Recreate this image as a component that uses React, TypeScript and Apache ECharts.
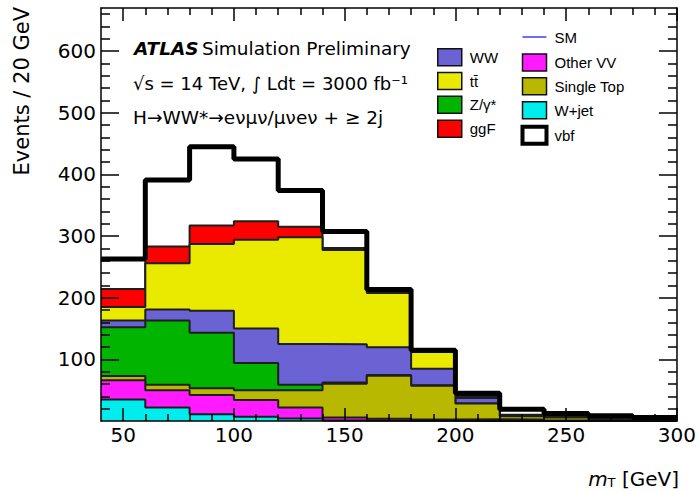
import React, { useEffect, useRef } from "react";
import * as echarts from "echarts";

// ---- data (events per 20 GeV bin, 40..300 GeV) ----
const binEdges = [40, 60, 80, 100, 120, 140, 160, 180, 200, 220, 240, 260, 280, 300];
const wjet = [35, 22, 11, 7, 4, 1, 0.5, 0.3, 0.2, 0.1, 0, 0, 0];
const otherVV = [31, 28, 31, 27, 18, 4.5, 3, 2, 2.5, 2.5, 1, 0.5, 0.3];
const singleTop = [7, 9, 11, 16, 28, 55, 70, 55, 25.5, 5, 4.5, 2, 1];
const zgamma = [79, 104, 90, 44, 9, 2, 1, 0.5, 0.2, 0.1, 0, 0, 0];
const ww = [11, 18, 36, 56, 66, 62, 45, 27, 9, 1, 0.5, 0.3, 0.2];
const ttbar = [22, 75, 108, 144, 173, 153, 88, 27, 2.5, 1, 0.5, 0.3, 0.2];
const ggf = [29, 27, 30, 30, 17, 3, 1, 1, 0.5, 0.3, 0.2, 0.1, 0.1];
const vbf = [49, 108, 128, 101, 59, 27, 5, 2, 4.5, 9, 5.5, 5.5, 3.7];

const xMajorTicks = [50, 100, 150, 200, 250, 300];
const xMinorTicks = [60, 70, 80, 90, 110, 120, 130, 140, 160, 170, 180, 190, 210, 220, 230, 240, 260, 270, 280, 290];
const yMajorTicks = [100, 200, 300, 400, 500, 600];
const yMinorTicks = [20, 40, 60, 80, 120, 140, 160, 180, 220, 240, 260, 280, 320, 340, 360, 380, 420, 440, 460, 480, 520, 540, 560, 580, 620, 640, 660];

const stackNames = ["W+jet", "Other VV", "Single Top", "Z/γ*", "WW", "tt̄", "ggF", "vbf"];
const stackValues = [wjet, otherVV, singleTop, zgamma, ww, ttbar, ggf, vbf];
const stackColors = ["#00eded", "#ff1aff", "#b8b800", "#00b400", "#6b63d3", "#eaea00", "#ff0000", "#ffffff"];

const FONT = "DejaVu Sans";
const LFONT = "Liberation Sans";

function buildOption() {
  const nBins = binEdges.length - 1;
  const running = new Array(nBins).fill(0);
  const cumulative: number[][] = stackValues.map((vals) => {
    for (let i = 0; i < nBins; i++) running[i] += vals[i];
    return running.slice();
  });
  const toStep = (arr: number[]) => binEdges.map((e, i) => [e, arr[Math.min(i, nBins - 1)]]);

  const series: any[] = stackNames.map((name, k) => ({
    name,
    type: "line",
    step: "end",
    symbol: "none",
    showSymbol: false,
    silent: true,
    emphasis: { disabled: true },
    data: toStep(cumulative[k]),
    itemStyle: { color: stackColors[k] },
    areaStyle: { color: stackColors[k], opacity: 1 },
    lineStyle: name === "vbf" ? { width: 0, opacity: 0 } : { color: "#1e1e1e", width: 2 },
    z: 2 + (stackNames.length - 1 - k),
  }));
  series.push({
    name: "vbf-outline",
    type: "line",
    step: "end",
    symbol: "none",
    silent: true,
    emphasis: { disabled: true },
    data: toStep(cumulative[stackNames.length - 1]),
    lineStyle: { color: "#000", width: 5 },
    itemStyle: { color: "#000" },
    z: 12,
  });
  series.push({
    name: "SM",
    type: "line",
    symbol: "none",
    data: [],
    itemStyle: { color: "#3a3aff" },
    lineStyle: { color: "#3a3aff", width: 1.5 },
  });
  // empty carriers binding the frame / minor-tick axes
  for (let k = 1; k < 4; k++) {
    series.push({ type: "line", data: [], xAxisIndex: k, yAxisIndex: k, silent: true, symbol: "none" });
  }

  const axisLineStyle = { color: "#000", width: 1.5 };
  const mkX = (pos: string, major: boolean, labels: boolean) => ({
    type: "value",
    position: pos,
    min: 40,
    max: 300,
    z: 20,
    axisLine: { show: major, onZero: false, lineStyle: axisLineStyle },
    axisTick: {
      show: true,
      inside: true,
      length: major ? 13 : 7,
      customValues: major ? xMajorTicks : xMinorTicks,
      lineStyle: { color: "#000", width: 1.5 },
    },
    axisLabel: labels
      ? { show: true, customValues: xMajorTicks, fontFamily: FONT, fontSize: 20, color: "#000", margin: 4 }
      : { show: false },
    splitLine: { show: false },
  });
  const mkY = (pos: string, major: boolean, labels: boolean) => ({
    type: "value",
    position: pos,
    min: 0,
    max: 670,
    z: 20,
    axisLine: { show: major, onZero: false, lineStyle: axisLineStyle },
    axisTick: {
      show: true,
      inside: true,
      length: major ? 18 : 9,
      customValues: major ? yMajorTicks : yMinorTicks,
      lineStyle: { color: "#000", width: 1.5 },
    },
    axisLabel: labels
      ? { show: true, customValues: yMajorTicks, fontFamily: FONT, fontSize: 20, color: "#000", margin: 5 }
      : { show: false },
    splitLine: { show: false },
  });

  const legendItem = (name: string, color: string, border = 1.5) => ({
    name,
    icon: "rect",
    itemStyle: { color, borderColor: "#111", borderWidth: border },
  });
  const colorOf = (n: string) => stackColors[stackNames.indexOf(n)];

  return {
    animation: false,
    backgroundColor: "#fff",
    grid: { left: 101, top: 8, width: 581, height: 413, containLabel: false },
    xAxis: [mkX("bottom", true, true), mkX("bottom", false, false), mkX("top", true, false), mkX("top", false, false)],
    yAxis: [mkY("left", true, true), mkY("left", false, false), mkY("right", true, false), mkY("right", false, false)],
    legend: [
      {
        orient: "vertical",
        left: 437,
        top: 48,
        padding: 0,
        itemWidth: 24,
        itemHeight: 17,
        itemGap: 5.3,
        selectedMode: false,
        textStyle: { fontFamily: LFONT, fontSize: 15, color: "#000", padding: [0, 0, 0, 3] },
        data: ["WW", "tt̄", "Z/γ*", "ggF"].map((n) => legendItem(n, colorOf(n))),
      },
      {
        orient: "vertical",
        left: 520,
        top: 26,
        padding: 0,
        itemWidth: 24,
        itemHeight: 17,
        itemGap: 5.3,
        selectedMode: false,
        textStyle: { fontFamily: LFONT, fontSize: 15, color: "#000", padding: [0, 0, 0, 3] },
        data: [
          {
            name: "SM",
            icon: "path://M0,0 M0,8.5 L24,8.5 M24,17",
            itemStyle: { color: "none", borderColor: "#3a3aff", borderWidth: 1.5 },
          },
          legendItem("Other VV", colorOf("Other VV")),
          legendItem("Single Top", colorOf("Single Top")),
          legendItem("W+jet", colorOf("W+jet")),
          { name: "vbf", icon: "rect", itemStyle: { color: "#fff", borderColor: "#000", borderWidth: 4 } },
        ],
      },
    ],
    graphic: [
      {
        type: "text",
        x: 134,
        y: 48,
        z: 30,
        style: {
          text: "{b|ATLAS} {n|Simulation Preliminary}",
          textVerticalAlign: "middle",
          fill: "#000",
          rich: {
            b: { fontFamily: FONT, fontSize: 18.5, fontWeight: "bold", fontStyle: "italic", fill: "#000" },
            n: { fontFamily: FONT, fontSize: 18.5, fill: "#000" },
          },
        },
      },
      {
        type: "text",
        x: 133,
        y: 83,
        z: 30,
        style: {
          text: "√s = 14 TeV, ∫ Ldt = 3000 fb⁻¹",
          font: `18px "${FONT}"`,
          textVerticalAlign: "middle",
          fill: "#000",
        },
      },
      {
        type: "text",
        x: 133,
        y: 117,
        z: 30,
        style: {
          text: "H→WW*→eνμν/μνeν + ≥ 2j",
          font: `18.5px "${FONT}"`,
          textVerticalAlign: "middle",
          fill: "#000",
        },
      },
      {
        type: "text",
        x: 22,
        y: 7,
        rotation: Math.PI / 2,
        z: 30,
        style: {
          text: "Events / 20 GeV",
          font: `21px "${FONT}"`,
          textAlign: "right",
          textVerticalAlign: "middle",
          fill: "#000",
        },
      },
      {
        type: "text",
        x: 679,
        y: 475,
        z: 30,
        style: {
          text: "{i|m}{s|T}{n| [GeV]}",
          textAlign: "right",
          textVerticalAlign: "middle",
          fill: "#000",
          rich: {
            i: { fontFamily: FONT, fontSize: 20, fontStyle: "italic", lineHeight: 28, verticalAlign: "bottom", fill: "#000" },
            s: { fontFamily: FONT, fontSize: 13, lineHeight: 14, verticalAlign: "bottom", fill: "#000" },
            n: { fontFamily: FONT, fontSize: 20, lineHeight: 28, verticalAlign: "bottom", fill: "#000" },
          },
        },
      },
    ],
    series,
  };
}

export default function App() {
  const ref = useRef<HTMLDivElement>(null);
  useEffect(() => {
    document.body.style.margin = "0";
    if (!ref.current) return;
    const chart = echarts.init(ref.current, undefined, { renderer: "svg" });
    chart.setOption(buildOption() as any);
    return () => chart.dispose();
  }, []);
  return <div ref={ref} style={{ position: "fixed", left: 0, top: 0, width: 699, height: 492, background: "#fff" }} />;
}
